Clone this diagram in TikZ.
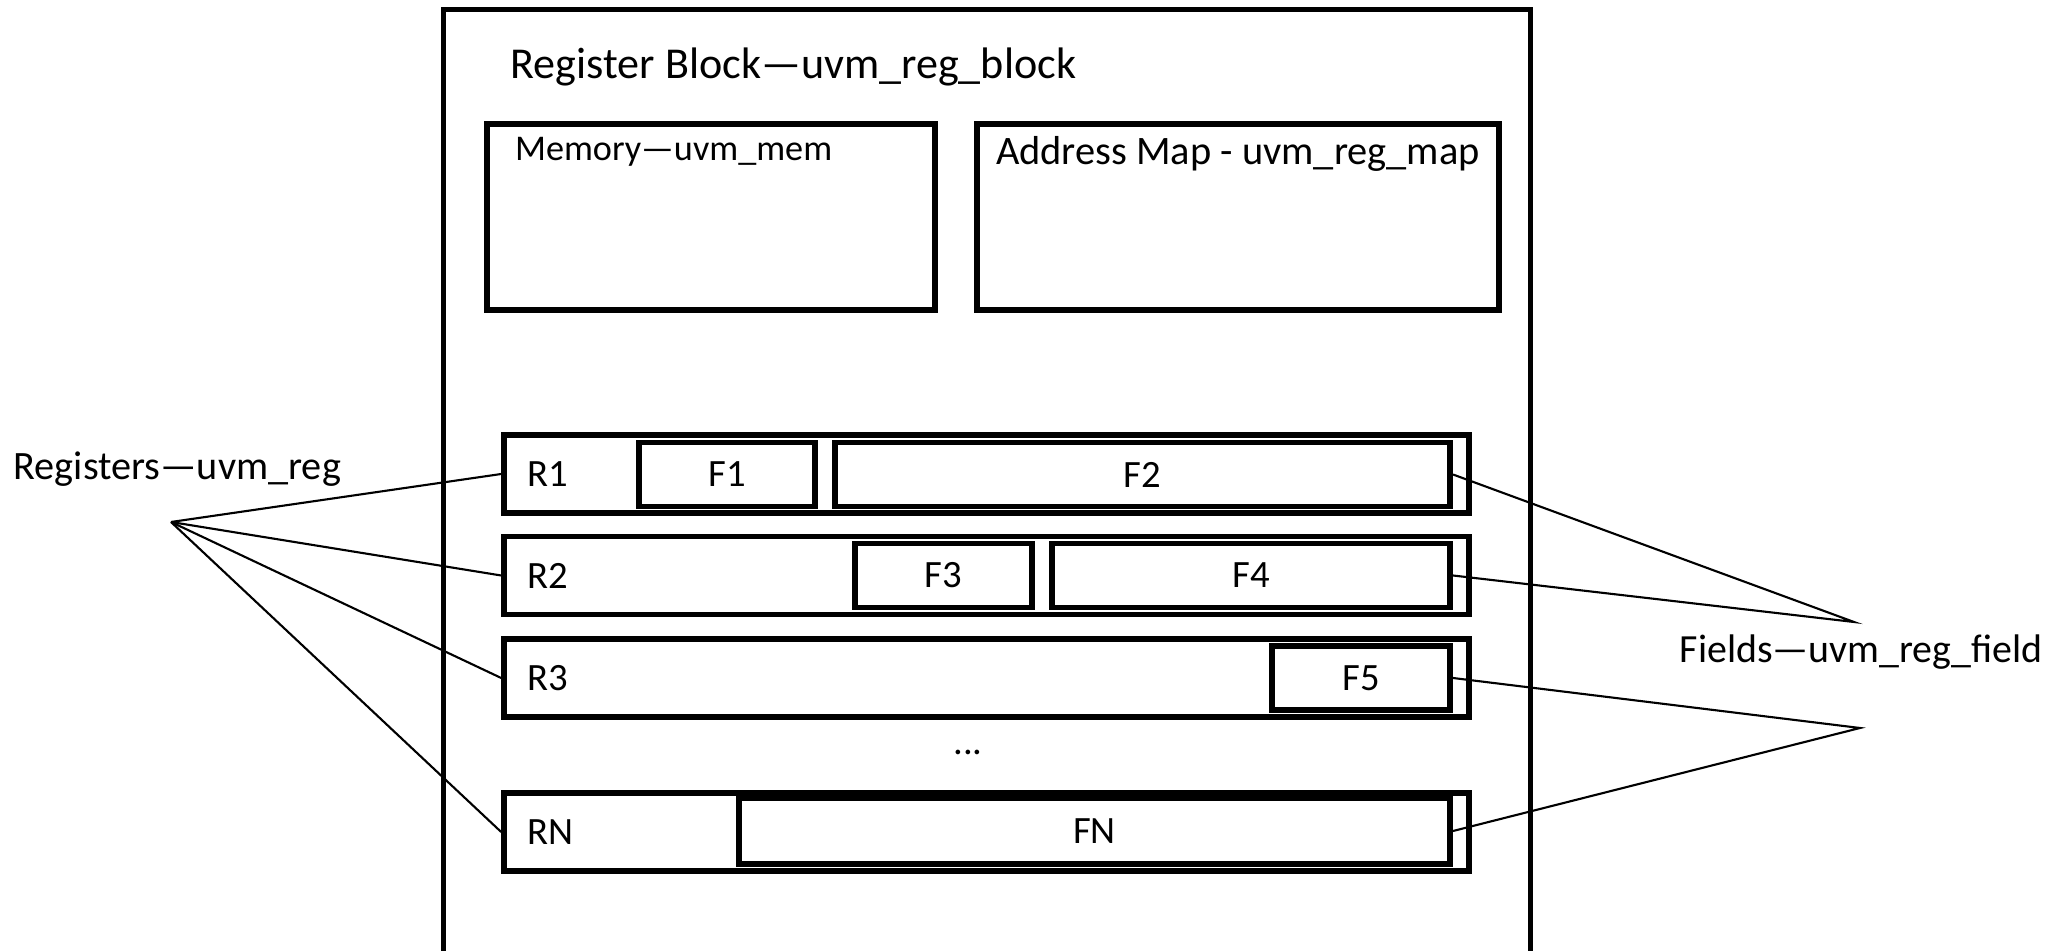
\documentclass[tikz,border=0pt]{standalone}
\usepackage{fontspec}
\setmainfont{Carlito}
\usetikzlibrary{positioning, calc}

\begin{document}
\begin{tikzpicture}[
    every node/.style={font=\fontsize{11}{13}\selectfont},
    box/.style={draw, line width=1.5pt, inner sep=0pt},
    regrow/.style={draw, line width=1.6pt, minimum width=9.65cm, minimum height=0.78cm, inner sep=0pt},
    fld/.style={draw, line width=1.7pt, minimum height=0.64cm, inner sep=0pt},
    lbl/.style={inner sep=0pt},
    link/.style={line width=0.6pt},
]
\useasboundingbox (0,0) rectangle (20.62,9.5);
\clip (0,0) rectangle (20.62,9.5);

% Register block (runs off the bottom edge)
\node[box, line width=1.3pt, minimum width=10.87cm, minimum height=10cm, anchor=north west] (blk) at (4.41,9.43) {};
\node[lbl, anchor=base west, font=\fontsize{12.55}{15}\selectfont] (blktitle) at (5.10,8.71) {Register Block—uvm\_reg\_block};

% Memory and address map
\node[box, minimum width=4.48cm, minimum height=1.86cm] (mem) at (7.11,7.33) {};
\node[box, minimum width=5.22cm, minimum height=1.86cm] (amap) at (12.38,7.33) {};
\node[lbl, anchor=base west, font=\fontsize{10.3}{12}\selectfont] (memtxt) at ($(mem.north west)+(0.30,-0.39)$) {Memory—uvm\_mem};
\node[lbl, anchor=base west, font=\fontsize{11.5}{13}\selectfont] (amaptxt) at ($(amap.north west)+(0.21,-0.43)$) {Address Map - uvm\_reg\_map};

% Registers
\node[regrow] (R1) at (9.865,4.76) {};
\node[regrow] (R2) at (9.865,3.745) {};
\node[regrow] (R3) at (9.865,2.72) {};
\node[regrow] (RN) at (9.865,1.18) {};
\node[lbl, anchor=west] at ($(R1.west)+(0.26,0)$) {R1};
\node[lbl, anchor=west] at ($(R2.west)+(0.26,0)$) {R2};
\node[lbl, anchor=west] at ($(R3.west)+(0.26,0)$) {R3};
\node[lbl, anchor=west] at ($(RN.west)+(0.26,0)$) {RN};
\node[lbl, anchor=base] (dots) at (9.68,1.95) {...};

% Fields
\node[fld, minimum width=1.76cm] (F1) at (7.27,4.755) {F1};
\node[fld, minimum width=6.15cm] (F2) at (11.425,4.755) {F2};
\node[fld, minimum width=1.77cm] (F3) at (9.435,3.745) {F3};
\node[fld, minimum width=3.98cm] (F4) at (12.51,3.745) {F4};
\node[fld, minimum width=1.78cm] (F5) at (13.61,2.72) {F5};
\node[fld, minimum width=7.11cm, minimum height=0.66cm] (FN) at (10.945,1.19) {FN};

% Side labels and their fan points
\node[lbl, anchor=base west, font=\fontsize{11.45}{13}\selectfont] (reglbl) at (0.13,4.70) {Registers—uvm\_reg};
\node[lbl, anchor=base west, font=\fontsize{11.35}{13}\selectfont] (fldlbl) at (16.79,2.87) {Fields—uvm\_reg\_field};
\coordinate (regfan) at (1.71,4.28);
\coordinate (fldfanA) at (18.54,3.28);
\coordinate (fldfanB) at (18.60,2.22);

\foreach \r in {R1,R2,R3,RN}
    \draw[link] (regfan) -- (\r.west);
\draw[link] (F2.east) -- (fldfanA) -- (F4.east);
\draw[link] (F5.east) -- (fldfanB) -- (FN.east);
\end{tikzpicture}
\end{document}
